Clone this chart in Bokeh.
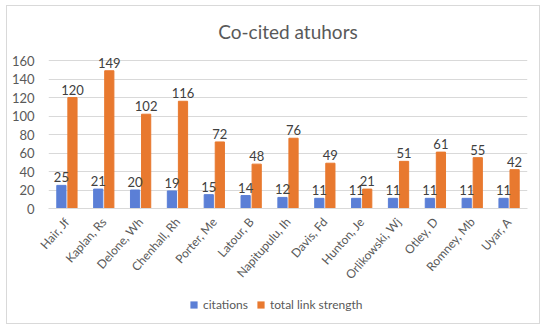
from bokeh.plotting import figure
from bokeh.models import ColumnDataSource, Range1d, FixedTicker, Legend, LegendItem
from bokeh.layouts import column
from bokeh.transform import dodge
from bokeh.core.properties import value
from bokeh.embed import file_html
from bokeh.resources import INLINE

authors = ["Hair, Jf", "Kaplan, Rs", "Delone, Wh", "Chenhall, Rh", "Porter, Me",
           "Latour, B", "Napitupulu, Ih", "Davis, Fd", "Hunton, Je", "Orlikowski, Wj",
           "Otley, D", "Romney, Mb", "Uyar, A"]
citations = [25, 21, 20, 19, 15, 14, 12, 11, 11, 11, 11, 11, 11]
link_strength = [120, 149, 102, 116, 72, 48, 76, 49, 21, 51, 61, 55, 42]
y_ticks = [0, 20, 40, 60, 80, 100, 120, 140, 160]

FONT = "Lato"
BLUE = "#5B7FD6"
ORANGE = "#E8792F"
GREY = "#595959"

src = ColumnDataSource(dict(names=authors, cit=citations, tls=link_strength,
                            cit_s=[str(v) for v in citations],
                            tls_s=[str(v) for v in link_strength]))

p = figure(x_range=authors, y_range=Range1d(0, 172), width=532, height=289,
           output_backend="svg", toolbar_location=None,
           min_border_left=41, min_border_right=12, min_border_top=43, min_border_bottom=87)

p.vbar(x=dodge("names", -0.15, range=p.x_range), top="cit", width=0.25,
       source=src, color=BLUE)
p.vbar(x=dodge("names", 0.15, range=p.x_range), top="tls", width=0.25,
       source=src, color=ORANGE)

p.text(x=dodge("names", -0.15, range=p.x_range), y="cit", text="cit_s", source=src,
       text_align="center", text_baseline="bottom", y_offset=-3,
       text_font=value(FONT), text_font_size="13px", text_color="#404040")
p.text(x=dodge("names", 0.15, range=p.x_range), y="tls", text="tls_s", source=src,
       text_align="center", text_baseline="bottom", y_offset=-3,
       text_font=value(FONT), text_font_size="13px", text_color="#404040")

p.title.text = "Co-cited atuhors"
p.title.align = "center"
p.title.text_font = FONT
p.title.text_font_size = "19px"
p.title.text_font_style = "normal"
p.title.text_color = GREY
p.title.standoff = 14

p.outline_line_color = None
p.xgrid.grid_line_color = None
p.ygrid.grid_line_color = "#d9d9d9"
p.ygrid.ticker = FixedTicker(ticks=y_ticks)
p.yaxis.ticker = FixedTicker(ticks=y_ticks)
p.yaxis.axis_line_color = None
p.yaxis.major_tick_line_color = None
p.yaxis.minor_tick_line_color = None
p.yaxis.major_label_text_font = FONT
p.yaxis.major_label_text_font_size = "13px"
p.yaxis.major_label_text_color = GREY
p.yaxis.major_label_standoff = 8

p.xaxis.axis_line_color = "#d9d9d9"
p.xaxis.major_tick_line_color = None
p.xaxis.minor_tick_line_color = None
p.xaxis.major_label_orientation = 0.85
p.xaxis.major_label_text_font = FONT
p.xaxis.major_label_text_font_size = "12px"
p.xaxis.major_label_text_color = GREY
p.x_range.range_padding = 0

# legend strip (bars drawn out of view, only their legend swatches show)
lg = figure(x_range=authors, y_range=Range1d(1000, 1001), width=532, height=28,
            output_backend="svg", toolbar_location=None,
            min_border_left=0, min_border_right=0, min_border_top=0, min_border_bottom=0)
lr1 = lg.vbar(x="names", top="cit", width=0.25, source=src, fill_color=BLUE, line_color=None)
lr2 = lg.vbar(x="names", top="tls", width=0.25, source=src, fill_color=ORANGE, line_color=None)
lg.axis.visible = False
lg.grid.visible = False
lg.outline_line_color = None
legend = Legend(items=[LegendItem(label="citations", renderers=[lr1]),
                       LegendItem(label="total link strength", renderers=[lr2])],
                orientation="horizontal", location=(141, 11),
                label_text_font=FONT, label_text_font_size="12px", label_text_color=GREY,
                glyph_width=9, glyph_height=9, border_line_color=None,
                background_fill_alpha=0, spacing=8, margin=0, padding=4)
lg.add_layout(legend, "center")

layout = column(p, lg, spacing=0,
                styles={"border": "1px solid #d9d9d9", "margin-left": "6px", "margin-top": "5px"})

open("out.html", "w").write(file_html(layout, INLINE))
